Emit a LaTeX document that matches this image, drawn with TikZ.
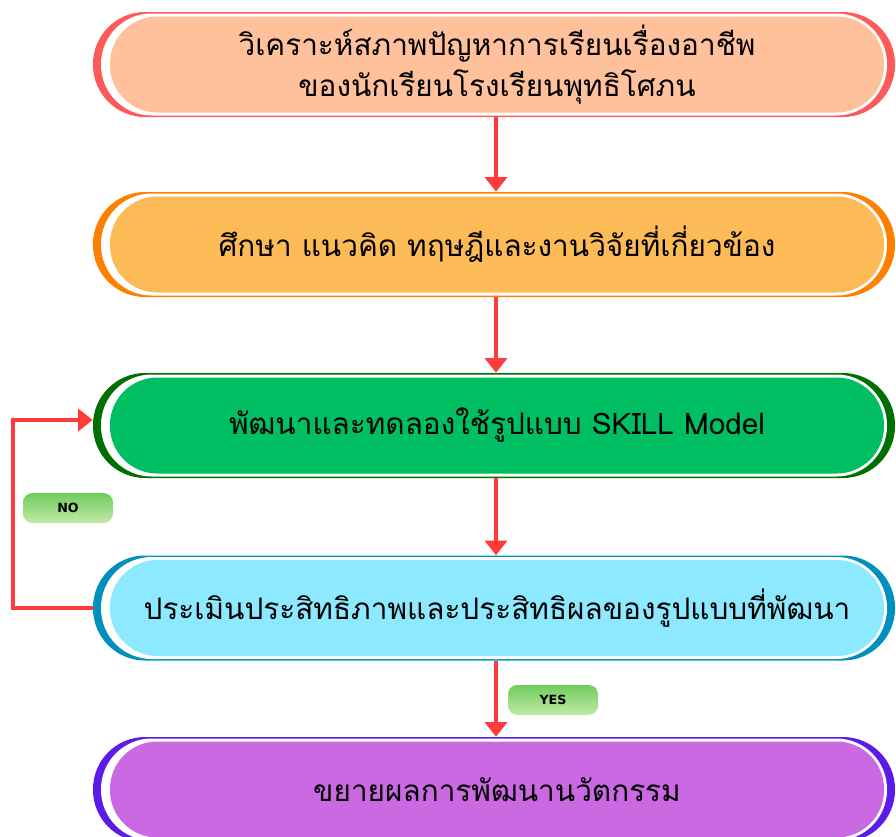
\documentclass[tikz,border=0pt]{standalone}
\usepackage{fontspec}
\newfontfamily\thaifont[Script=Thai]{Loma}
\newfontfamily\lblfont{DejaVu Sans}
\usetikzlibrary{arrows.meta}
\definecolor{bordA}{HTML}{FF5A5A}\definecolor{fillA}{HTML}{FFC09C}
\definecolor{bordB}{HTML}{FF8000}\definecolor{fillB}{HTML}{FDBB58}
\definecolor{bordC}{HTML}{006E00}\definecolor{fillC}{HTML}{00BF63}
\definecolor{bordD}{HTML}{0090C0}\definecolor{fillD}{HTML}{8CE9FF}
\definecolor{bordE}{HTML}{5B1BE8}\definecolor{fillE}{HTML}{CA69E2}
\definecolor{arrowred}{HTML}{FF3B3B}
\definecolor{lblTop}{HTML}{6FCD5E}
\definecolor{lblBot}{HTML}{C4E9A6}
\begin{document}
\begin{tikzpicture}[x=0.75pt,y=-0.75pt,
  outerbox/.style={rectangle,inner sep=0pt,minimum width=601.5pt,minimum height=78.75pt,rounded corners=39pt},
  whitebox/.style={rectangle,inner sep=0pt,minimum width=589.5pt,minimum height=76.5pt,rounded corners=38pt,fill=white},
  innerbox/.style={rectangle,inner sep=0pt,minimum width=580.5pt,minimum height=72pt,rounded corners=35.5pt,align=center,text=black,font=\thaifont\fontsize{22.3}{30.5}\selectfont},
  flowarrow/.style={draw=arrowred,line width=3pt,-{Triangle[width=16.5pt,length=11pt]},arrowred},
  lbl/.style={rectangle,inner sep=0pt,minimum width=67.5pt,minimum height=22.5pt,rounded corners=7pt,top color=lblTop,bottom color=lblBot,font=\lblfont\bfseries\fontsize{9.5}{9.5}\selectfont}
]
\useasboundingbox (0,0) rectangle (896,836);
% box 1
\node[outerbox,fill=bordA] (b1o) at (494,64.5) {};
\node[whitebox] (b1w) at (494,64.5) {};
\node[innerbox,fill=fillA] (b1) at (497,64.5) {วิเคราะห์สภาพปัญหาการเรียนเรื่องอาชีพ\\ของนักเรียนโรงเรียนพุทธิโศภน};
% box 2
\node[outerbox,fill=bordB] (b2o) at (494,244.5) {};
\node[whitebox] (b2w) at (494,244.5) {};
\node[innerbox,fill=fillB] (b2) at (497,244.5) {ศึกษา แนวคิด ทฤษฎีและงานวิจัยที่เกี่ยวข้อง};
% box 3
\node[outerbox,fill=bordC] (b3o) at (494,425.5) {};
\node[whitebox] (b3w) at (494,425.5) {};
\node[innerbox,fill=fillC] (b3) at (497,425.5) {พัฒนาและทดลองใช้รูปแบบ SKILL Model};
% box 4
\node[outerbox,fill=bordD] (b4o) at (494,608) {};
\node[whitebox] (b4w) at (494,608) {};
\node[innerbox,fill=fillD] (b4) at (497,608) {ประเมินประสิทธิภาพและประสิทธิผลของรูปแบบที่พัฒนา};
% box 5
\node[outerbox,fill=bordE] (b5o) at (494,789.5) {};
\node[whitebox] (b5w) at (494,789.5) {};
\node[innerbox,fill=fillE] (b5) at (497,789.5) {ขยายผลการพัฒนานวัตกรรม};
% arrows
\draw[flowarrow] ([xshift=1.5pt]b1o.south) -- ([xshift=1.5pt]b2o.north);
\draw[flowarrow] ([xshift=1.5pt]b2o.south) -- ([xshift=1.5pt]b3o.north);
\draw[flowarrow] ([xshift=1.5pt]b3o.south) -- ([xshift=1.5pt]b4o.north);
\draw[flowarrow] ([xshift=1.5pt]b4o.south) -- ([xshift=1.5pt]b5o.north);
% feedback loop
\coordinate (c1) at (13,608);
\coordinate (c2) at (13,420);
\draw[flowarrow] (b4o.west) -- (c1) -- (c2) -- (c2 -| b3o.west);
% labels
\node[lbl] (no) at (68,508) {NO};
\node[lbl] (yes) at (553,700) {YES};
\end{tikzpicture}
\end{document}
